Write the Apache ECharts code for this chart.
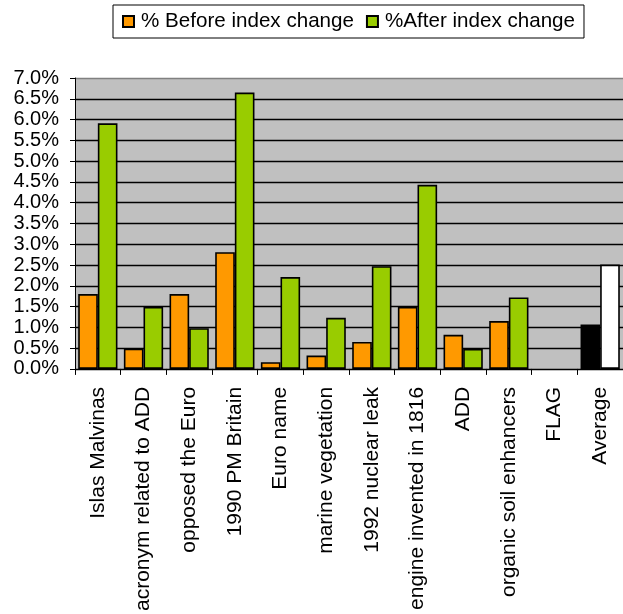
<!DOCTYPE html>
<html>
<head>
<meta charset="utf-8">
<script src="https://cdn.jsdelivr.net/npm/echarts@6/dist/echarts.min.js"></script>
<style>
html,body{margin:0;padding:0;background:#fff;}
#chart{width:623px;height:614px;}
</style>
</head>
<body>
<div id="chart"></div>
<script>
var categories = ["Islas Malvinas", "acronym related to ADD", "opposed the Euro", "1990 PM Britain", "Euro name", "marine vegetation", "1992 nuclear leak", "engine invented in 1816", "ADD", "organic soil enhancers", "FLAG", "Average"];
var beforeValues = [1.80, 0.49, 1.80, 2.81, 0.16, 0.32, 0.65, 1.49, 0.82, 1.15, null, 1.07];
var afterValues = [5.91, 1.49, 0.98, 6.65, 2.21, 1.23, 2.47, 4.43, 0.48, 1.72, null, 2.51];
var seriesNames = ["% Before index change", "%After index change"];
var yTicks = [0, 0.5, 1.0, 1.5, 2.0, 2.5, 3.0, 3.5, 4.0, 4.5, 5.0, 5.5, 6.0, 6.5, 7.0];

var FONT = "'Liberation Sans', Arial, sans-serif";
var lastIdx = categories.length - 1;

function buildData(values, avgColor) {
  return values.map(function (v, i) {
    if (i === lastIdx) {
      return { value: v, itemStyle: { color: avgColor } };
    }
    return v;
  });
}

var lineColors = yTicks.map(function (t, i) { return i === yTicks.length - 1 ? '#808080' : '#000000'; });

var chart = echarts.init(document.getElementById('chart'), null, { renderer: 'canvas' });
chart.setOption({
  animation: false,
  backgroundColor: '#ffffff',
  legend: {
    left: 113,
    top: 5,
    padding: [6, 9, 6, 9],
    itemGap: 12,
    itemWidth: 11,
    itemHeight: 11,
    icon: 'rect',
    borderColor: '#000',
    borderWidth: 1,
    textStyle: { fontFamily: FONT, fontSize: 20.6, color: '#000', padding: [0, 0, 0, 2] },
    itemStyle: { borderColor: '#000', borderWidth: 2 },
    data: seriesNames
  },
  grid: {
    left: 75,
    top: 78,
    width: 551.5,
    height: 294.7,
    show: true,
    backgroundColor: '#C0C0C0',
    borderWidth: 0,
    containLabel: false
  },
  xAxis: {
    type: 'category',
    data: categories,
    boundaryGap: true,
    axisLine: { show: true, lineStyle: { color: '#000', width: 1 } },
    axisTick: { show: true, length: 6, lineStyle: { color: '#000' } },
    axisLabel: { interval: 0, rotate: 90, margin: 18, fontFamily: FONT, fontSize: 21, color: '#000' },
    splitLine: { show: false }
  },
  yAxis: {
    type: 'value',
    min: 0,
    max: 7,
    interval: 0.5,
    axisLine: { show: true, lineStyle: { color: '#000', width: 1 } },
    axisTick: { show: true, length: 5, inside: false, lineStyle: { color: '#000' } },
    axisLabel: {
      margin: 16,
      fontFamily: FONT,
      fontSize: 20,
      color: '#000',
      formatter: function (v) { return v.toFixed(1) + '%'; }
    },
    splitLine: { show: true, lineStyle: { color: lineColors, width: 1.3 } }
  },
  series: [
    {
      name: seriesNames[0],
      type: 'bar',
      data: buildData(beforeValues, '#000000'),
      barGap: '0%',
      barCategoryGap: '14%',
      itemStyle: { color: '#FF9900', borderColor: '#000', borderWidth: 1.6 }
    },
    {
      name: seriesNames[1],
      type: 'bar',
      data: buildData(afterValues, '#FFFFFF'),
      barGap: '0%',
      barCategoryGap: '14%',
      itemStyle: { color: '#99CC00', borderColor: '#000', borderWidth: 1.6 }
    }
  ]
});
</script>
</body>
</html>
